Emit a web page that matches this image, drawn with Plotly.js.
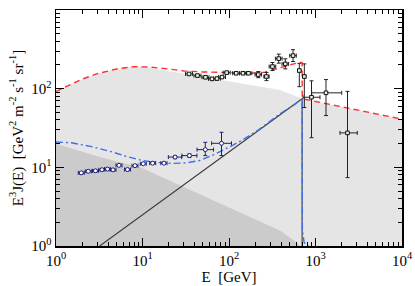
<!DOCTYPE html>
<html><head><meta charset="utf-8">
<script src="https://cdn.plot.ly/plotly-3.0.1.min.js"></script>
<style>html,body{margin:0;padding:0;background:#fff}</style>
</head><body><div id="chart" style="width:415px;height:286px"></div>
<script>
// Shaded regions (upper boundaries)
const bgE = [1, 1.5, 2, 3, 5, 8, 9.4, 390, 720, 10000];
const bgY = [92, 115, 132, 155, 178, 190, 193, 96, 74, 41];
const darkE = [1, 3.2, 9.4, 20.8, 46, 100, 228, 389, 550, 700];
const darkY = [20, 13.5, 10, 6.7, 4.5, 3.1, 2.05, 1.57, 1.2, 0.95];
// Model curves
const redE = [1, 1.5, 2, 3, 5, 8, 12, 20, 30, 50, 100, 200, 260, 300, 400, 550, 660, 700, 703, 720, 10000];
const redY = [92, 115, 132, 155, 178, 190, 188, 178, 168, 163, 160, 158, 162, 170, 188, 205, 216, 214, 80, 74, 41];
const blueE = [1, 1.5, 2.5, 4.2, 6.5, 10, 15, 22, 32, 46, 65, 85, 110, 150, 220, 389, 550, 700, 702, 705, 740, 870];
const blueY = [21, 20.5, 18.5, 16, 13.8, 12.2, 11.5, 11.2, 11.4, 12.2, 14.3, 16.5, 19, 23, 30, 48, 61, 74.5, 20, 1.6, 1.1, 0.95];
const lineE = [3.2, 700, 700];
const lineY = [1, 74.5, 0.5];
// Black square data
const bkE = [34.5, 43.2, 53.5, 63.6, 72.6, 83, 94, 121, 145, 168, 218, 271, 318, 376, 448, 550, 650, 743, 899, 1322, 2344];
const bkY = [154, 146.7, 139.6, 133.2, 134.4, 140.4, 160, 157, 157, 157, 151, 142.6, 191, 241, 206.6, 263, 170, 142.6, 77.8, 88.5, 27.4];
const bkXp = [3.4, 4.2, 5.2, 6.2, 7.1, 8.1, 9.2, 11.8, 14, 16, 20, 20, 29, 35, 41, 50, 30, 30, 228, 687, 697];
const bkXm = [3.1, 3.9, 4.8, 5.7, 6.5, 7.4, 8.4, 10.8, 13, 15, 18, 18, 27, 32, 38, 46, 28, 28, 182, 419, 424];
const bkYp = [5, 5, 5, 5, 5, 5, 5, 5, 5, 5, 14, 18, 24, 34, 33, 50, 40, 64, 48, 42, 65];
const bkYm = [5, 5, 5, 5, 5, 5, 5, 5, 5, 5, 13, 16, 21, 30, 28, 42, 64, 85, 54, 43, 20];
// Blue circle data
const blE = [1.96, 2.36, 2.86, 3.4, 3.94, 4.56, 5.35, 6.71, 8.19, 10.2, 13.1, 17.7, 23.8, 34.9, 53.2, 81.9];
const blY = [8.51, 8.9, 9.03, 9.32, 9.51, 9.29, 10.6, 9.37, 10.5, 11.1, 11.3, 11.3, 13.5, 14.1, 16.8, 20.2];
const blXp = [0.16, 0.2, 0.24, 0.28, 0.33, 0.38, 0.44, 0.56, 0.68, 0.85, 1.1, 1.5, 4.6, 7.7, 13.1, 25];
const blXm = [0.15, 0.18, 0.22, 0.26, 0.3, 0.35, 0.41, 0.52, 0.63, 0.79, 1.0, 1.4, 3.9, 6.3, 10.5, 19];
const blYp = [0.3, 0.3, 0.3, 0.3, 0.3, 0.3, 0.3, 0.3, 0.3, 0.3, 0.3, 0.3, 0.6, 0.7, 4, 7.7];
const blYm = [0.3, 0.3, 0.3, 0.3, 0.3, 0.3, 0.3, 0.3, 0.3, 0.3, 0.3, 0.3, 0.6, 0.7, 2.7, 6.1];
// Ticks
const xMajor = [1, 10, 100, 1000, 10000];
const xLabels = ['10<sup>0</sup>', '10<sup>1</sup>', '10<sup>2</sup>', '10<sup>3</sup>', '10<sup>4</sup>'];
const yMajor = [1, 10, 100, 1000];
const yLabels = ['10<sup>0</sup>', '10<sup>1</sup>', '10<sup>2</sup>', '10<sup>3</sup>'];

function minorVals(maxDec) {
  const v = [];
  for (let d = 0; d < maxDec; d++) for (let k = 2; k <= 9; k++) v.push(k * Math.pow(10, d));
  return v;
}
const FLOOR = 0.5;
const traces = [
  {x: bgE.concat([10000, 1]), y: bgY.concat([FLOOR, FLOOR]), mode: 'lines', fill: 'toself',
   fillcolor: '#e5e5e5', line: {width: 0, color: 'rgba(0,0,0,0)'}, hoverinfo: 'skip'},
  {x: darkE.concat([700, 1]), y: darkY.concat([FLOOR, FLOOR]), mode: 'lines', fill: 'toself',
   fillcolor: '#cbcbcb', line: {width: 0, color: 'rgba(0,0,0,0)'}, hoverinfo: 'skip'},
  {x: lineE, y: lineY, mode: 'lines', line: {color: '#3a3a3a', width: 1.1}},
  {x: redE, y: redY, mode: 'lines', line: {color: '#ff3030', width: 1.4, dash: '6px,4px'}},
  {x: blueE, y: blueY, mode: 'lines', line: {color: '#3f6fe8', width: 1.4, dash: '7px,3px,2px,3px'}},
  {x: bkE, y: bkY, mode: 'markers',
   marker: {symbol: 'square', size: 3.6, color: '#e8f2e0', line: {color: '#111', width: 1}},
   error_x: {type: 'data', symmetric: false, array: bkXp, arrayminus: bkXm, color: '#222', thickness: 1, width: 2},
   error_y: {type: 'data', symmetric: false, array: bkYp, arrayminus: bkYm, color: '#222', thickness: 1, width: 2}},
  {x: blE, y: blY, mode: 'markers',
   marker: {symbol: 'circle', size: 4, color: '#ffffff', line: {color: '#1e1e78', width: 1}},
   error_x: {type: 'data', symmetric: false, array: blXp, arrayminus: blXm, color: '#1e1e78', thickness: 1, width: 2},
   error_y: {type: 'data', symmetric: false, array: blYp, arrayminus: blYm, color: '#1e1e78', thickness: 1, width: 2}}
];
const font = {family: '"Liberation Serif", "DejaVu Serif", serif', size: 15, color: '#000'};
const axisCommon = {
  type: 'log', showgrid: false, zeroline: false, showline: true, linecolor: '#000', linewidth: 1.5,
  ticks: 'inside', ticklen: 8, tickwidth: 1, tickcolor: '#000', mirror: 'allticks',
  tickmode: 'array', tickfont: font
};
const layout = {
  width: 415, height: 286, margin: {l: 56, r: 13, t: 10, b: 40},
  paper_bgcolor: '#fff', plot_bgcolor: '#fff', showlegend: false, font: font,
  xaxis: Object.assign({}, axisCommon, {range: [0, 4], tickvals: xMajor, ticktext: xLabels,
    minor: {tickmode: 'array', tickvals: minorVals(4), ticks: 'inside', ticklen: 4, tickcolor: '#000', tickwidth: 1},
    title: {text: 'E  [GeV]', font: font, standoff: 2}}),
  yaxis: Object.assign({}, axisCommon, {range: [0, 3], tickvals: yMajor, ticktext: yLabels,
    minor: {tickmode: 'array', tickvals: minorVals(3), ticks: 'inside', ticklen: 4, tickcolor: '#000', tickwidth: 1},
    title: {text: 'E<sup>3</sup>J(E)  [GeV<sup>2</sup> m<sup>-2</sup> s<sup>-1</sup> sr<sup>-1</sup>]', font: font, standoff: 4}})
};
Plotly.newPlot('chart', traces, layout, {displayModeBar: false, staticPlot: true});
</script></body></html>
